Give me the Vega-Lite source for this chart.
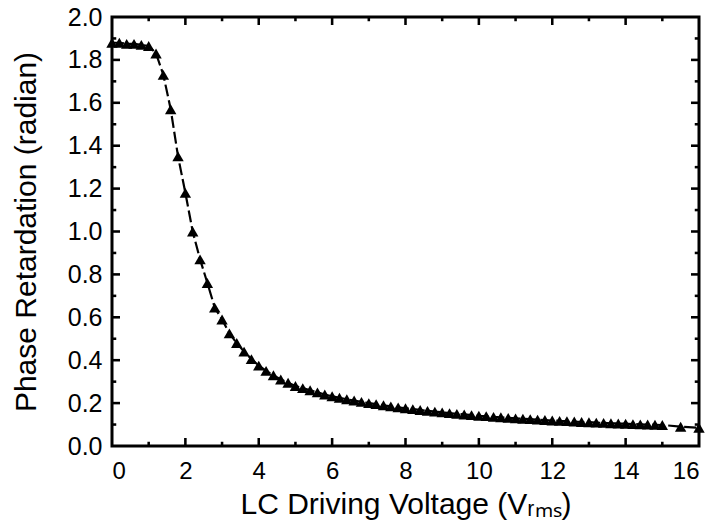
{
  "$schema": "https://vega.github.io/schema/vega-lite/v6.json",
  "width": 587,
  "height": 429,
  "autosize": {"type": "none"},
  "padding": {"left": 112, "top": 17, "right": 15, "bottom": 85},
  "config": {
    "view": {"stroke": "black", "strokeWidth": 3},
    "font": "Liberation Sans",
    "axis": {"grid": false, "domain": false, "ticks": false, "labelColor": "black", "titleColor": "black", "labelFont": "Liberation Sans", "titleFont": "Liberation Sans", "titleFontWeight": "normal"}
  },
  "datasets": {
    "curve": [
      {"v": 0, "p": 1.88}, {"v": 0.2, "p": 1.88}, {"v": 0.4, "p": 1.875}, {"v": 0.6, "p": 1.875}, {"v": 0.8, "p": 1.87}, {"v": 1.0, "p": 1.865},
      {"v": 1.2, "p": 1.83}, {"v": 1.4, "p": 1.73}, {"v": 1.6, "p": 1.57}, {"v": 1.8, "p": 1.35}, {"v": 2.0, "p": 1.18},
      {"v": 2.2, "p": 1.0}, {"v": 2.4, "p": 0.87}, {"v": 2.6, "p": 0.76}, {"v": 2.8, "p": 0.645}, {"v": 3.0, "p": 0.59},
      {"v": 3.2, "p": 0.525}, {"v": 3.4, "p": 0.48}, {"v": 3.6, "p": 0.44}, {"v": 3.8, "p": 0.405}, {"v": 4.0, "p": 0.375},
      {"v": 4.2, "p": 0.35}, {"v": 4.4, "p": 0.33}, {"v": 4.6, "p": 0.31}, {"v": 4.8, "p": 0.295}, {"v": 5.0, "p": 0.28},
      {"v": 5.2, "p": 0.27}, {"v": 5.4, "p": 0.26}, {"v": 5.6, "p": 0.25}, {"v": 5.8, "p": 0.24}, {"v": 6.0, "p": 0.232},
      {"v": 6.2, "p": 0.225}, {"v": 6.4, "p": 0.218}, {"v": 6.6, "p": 0.212}, {"v": 6.8, "p": 0.206}, {"v": 7.0, "p": 0.2},
      {"v": 7.2, "p": 0.195}, {"v": 7.4, "p": 0.19}, {"v": 7.6, "p": 0.185}, {"v": 7.8, "p": 0.18}, {"v": 8.0, "p": 0.176},
      {"v": 8.2, "p": 0.172}, {"v": 8.4, "p": 0.168}, {"v": 8.6, "p": 0.164}, {"v": 8.8, "p": 0.16}, {"v": 9.0, "p": 0.157},
      {"v": 9.2, "p": 0.153}, {"v": 9.4, "p": 0.15}, {"v": 9.6, "p": 0.147}, {"v": 9.8, "p": 0.144}, {"v": 10.0, "p": 0.141},
      {"v": 10.2, "p": 0.139}, {"v": 10.4, "p": 0.136}, {"v": 10.6, "p": 0.134}, {"v": 10.8, "p": 0.131}, {"v": 11.0, "p": 0.129},
      {"v": 11.2, "p": 0.127}, {"v": 11.4, "p": 0.125}, {"v": 11.6, "p": 0.123}, {"v": 11.8, "p": 0.121}, {"v": 12.0, "p": 0.119},
      {"v": 12.2, "p": 0.117}, {"v": 12.4, "p": 0.116}, {"v": 12.6, "p": 0.114}, {"v": 12.8, "p": 0.112}, {"v": 13.0, "p": 0.111},
      {"v": 13.2, "p": 0.109}, {"v": 13.4, "p": 0.108}, {"v": 13.6, "p": 0.106}, {"v": 13.8, "p": 0.105}, {"v": 14.0, "p": 0.104},
      {"v": 14.2, "p": 0.102}, {"v": 14.4, "p": 0.101}, {"v": 14.6, "p": 0.1}, {"v": 14.8, "p": 0.099}, {"v": 15.0, "p": 0.098},
      {"v": 15.5, "p": 0.09}, {"v": 16.0, "p": 0.085}
    ],
    "xmajor": [{"t": 2}, {"t": 4}, {"t": 6}, {"t": 8}, {"t": 10}, {"t": 12}, {"t": 14}],
    "xminor": [{"t": 1}, {"t": 3}, {"t": 5}, {"t": 7}, {"t": 9}, {"t": 11}, {"t": 13}, {"t": 15}],
    "ymajor": [{"t": 0.2}, {"t": 0.4}, {"t": 0.6}, {"t": 0.8}, {"t": 1.0}, {"t": 1.2}, {"t": 1.4}, {"t": 1.6}, {"t": 1.8}],
    "yminor": [{"t": 0.1}, {"t": 0.3}, {"t": 0.5}, {"t": 0.7}, {"t": 0.9}, {"t": 1.1}, {"t": 1.3}, {"t": 1.5}, {"t": 1.7}, {"t": 1.9}]
  },
  "layer": [
    {
      "data": {"name": "curve"},
      "mark": {"type": "line", "color": "black", "strokeWidth": 2.2, "strokeDash": [12, 4]},
      "encoding": {
        "x": {"field": "v", "type": "quantitative", "scale": {"domain": [0, 16], "nice": false, "zero": false},
          "axis": {"orient": "bottom", "values": [0, 2, 4, 6, 8, 10, 12, 14, 16], "format": "d", "labelPadding": 13, "labelFontSize": 24, "title": "LC Driving Voltage (Vᵣₘₛ)", "titleFontSize": 30, "titlePadding": 6}},
        "y": {"field": "p", "type": "quantitative", "scale": {"domain": [0, 2], "nice": false, "zero": false},
          "axis": {"orient": "left", "values": [0, 0.2, 0.4, 0.6, 0.8, 1.0, 1.2, 1.4, 1.6, 1.8, 2.0], "format": ".1f", "labelPadding": 10, "labelFontSize": 25, "title": "Phase Retardation (radian)", "titleFontSize": 30, "titlePadding": 26}}
      }
    },
    {
      "data": {"name": "curve"},
      "mark": {"type": "point", "shape": "triangle-up", "filled": true, "color": "black", "size": 130, "opacity": 1},
      "encoding": {
        "x": {"field": "v", "type": "quantitative"},
        "y": {"field": "p", "type": "quantitative"}
      }
    },
    {
      "data": {"name": "xmajor"},
      "mark": {"type": "point", "shape": "M-0.16,0V-1H0.16V0Z", "filled": true, "color": "black", "size": 256, "opacity": 1},
      "encoding": {"x": {"field": "t", "type": "quantitative"}, "y": {"datum": 0}}
    },
    {
      "data": {"name": "xmajor"},
      "mark": {"type": "point", "shape": "M-0.16,0V1H0.16V0Z", "filled": true, "color": "black", "size": 256, "opacity": 1},
      "encoding": {"x": {"field": "t", "type": "quantitative"}, "y": {"datum": 2}}
    },
    {
      "data": {"name": "xminor"},
      "mark": {"type": "point", "shape": "M-0.3,0V-1H0.3V0Z", "filled": true, "color": "black", "size": 72, "opacity": 1},
      "encoding": {"x": {"field": "t", "type": "quantitative"}, "y": {"datum": 0}}
    },
    {
      "data": {"name": "xminor"},
      "mark": {"type": "point", "shape": "M-0.3,0V1H0.3V0Z", "filled": true, "color": "black", "size": 72, "opacity": 1},
      "encoding": {"x": {"field": "t", "type": "quantitative"}, "y": {"datum": 2}}
    },
    {
      "data": {"name": "ymajor"},
      "mark": {"type": "point", "shape": "M0,-0.16H1V0.16H0Z", "filled": true, "color": "black", "size": 256, "opacity": 1},
      "encoding": {"y": {"field": "t", "type": "quantitative"}, "x": {"datum": 0}}
    },
    {
      "data": {"name": "ymajor"},
      "mark": {"type": "point", "shape": "M0,-0.16H-1V0.16H0Z", "filled": true, "color": "black", "size": 256, "opacity": 1},
      "encoding": {"y": {"field": "t", "type": "quantitative"}, "x": {"datum": 16}}
    },
    {
      "data": {"name": "yminor"},
      "mark": {"type": "point", "shape": "M0,-0.3H1V0.3H0Z", "filled": true, "color": "black", "size": 72, "opacity": 1},
      "encoding": {"y": {"field": "t", "type": "quantitative"}, "x": {"datum": 0}}
    },
    {
      "data": {"name": "yminor"},
      "mark": {"type": "point", "shape": "M0,-0.3H-1V0.3H0Z", "filled": true, "color": "black", "size": 72, "opacity": 1},
      "encoding": {"y": {"field": "t", "type": "quantitative"}, "x": {"datum": 16}}
    }
  ]
}
